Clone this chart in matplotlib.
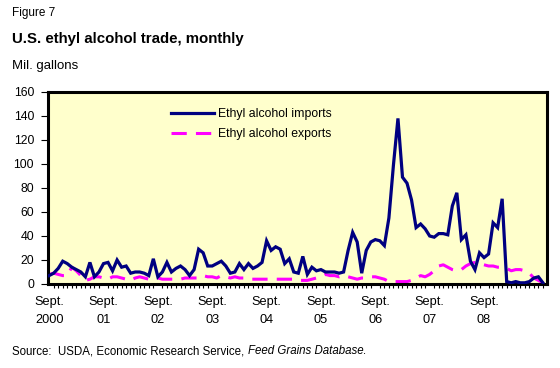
import numpy as np
import matplotlib
matplotlib.use("Agg")
import matplotlib.pyplot as plt

plt.rcParams['font.family'] = ['Liberation Sans', 'DejaVu Sans']

# monthly values, Sept. 2000 onward (mil. gallons)
imports = [7, 9, 13, 19, 17, 14, 12, 10, 6, 18, 6, 10, 17, 18, 11, 20, 14, 15, 9, 10,
           10, 9, 7, 21, 6, 10, 18, 10, 13, 15, 12, 7, 12, 29, 26, 15, 15, 17, 19, 15,
           9, 10, 17, 12, 17, 13, 15, 18, 36, 28, 31, 29, 17, 21, 10, 9, 23, 8, 14, 11,
           12, 10, 10, 10, 9, 10, 28, 43, 35, 9, 28, 35, 37, 36, 32, 55, 99, 138, 89, 84,
           70, 47, 50, 46, 40, 39, 42, 42, 41, 65, 76, 37, 41, 19, 12, 26, 22, 25, 51, 47,
           71, 2, 1, 2, 1, 1, 2, 5, 6, 1]
exports = [8, 9, 8, 7, 7, 14, 11, 7, 3, 4, 6, 6, 5, 4, 6, 6, 5, 4, 3, 5,
           6, 5, 4, 4, 5, 4, 4, 4, 4, 4, 5, 5, 5, 5, 7, 6, 6, 5, 7, 6,
           5, 6, 5, 5, 4, 4, 4, 4, 4, 4, 4, 4, 4, 4, 4, 3, 3, 3, 4, 5,
           6, 8, 7, 7, 6, 7, 6, 5, 4, 5, 5, 6, 6, 5, 4, 2, 2, 2, 2, 2,
           3, 5, 7, 6, 8, 11, 15, 16, 14, 12, 11, 12, 15, 17, 18, 17, 16, 15, 15, 14,
           14, 13, 11, 12, 12, 11, 9, 5, 3, 1]
year_labels = ['Sept.\n2000', 'Sept.\n01', 'Sept.\n02', 'Sept.\n03', 'Sept.\n04',
               'Sept.\n05', 'Sept.\n06', 'Sept.\n07', 'Sept.\n08']

W, H = 560, 368
fig = plt.figure(figsize=(W / 100, H / 100), dpi=100)
ax = fig.add_axes([48 / W, 1 - 284 / H, 499 / W, 192 / H])
ax.set_facecolor('#FFFFCC')

x = np.arange(len(imports))
ax.plot(x, imports, color='#000080', lw=2.3, label='Ethyl alcohol imports',
        solid_joinstyle='miter', zorder=3)
ax.plot(x, exports, color='#FF00FF', lw=2.2, linestyle=(0, (5, 3)),
        label='Ethyl alcohol exports', zorder=2)

ax.set_xlim(-0.25, 109.9)
ax.set_ylim(0, 160)
ax.set_yticks(range(0, 161, 20))
ax.set_xticks([12 * i for i in range(len(year_labels))])
ax.set_xticklabels(year_labels)
ax.set_xticks(np.arange(0, 110), minor=True)
ax.tick_params(axis='x', which='major', length=0, pad=9, labelsize=9.2)
ax.tick_params(axis='x', which='minor', length=3, width=0.8, direction='out')
ax.tick_params(axis='y', length=5, width=0.8, pad=5, labelsize=8.8)
for lbl in ax.get_xticklabels():
    lbl.set_linespacing(1.6)

for s in ax.spines.values():
    s.set_linewidth(2.2)
    s.set_color('black')

leg = ax.legend(loc='upper left', bbox_to_anchor=(0.225, 0.975), frameon=False,
                fontsize=8.8, handlelength=3.5, handletextpad=0.3, labelspacing=0.7)

fig.text(12 / W, 1 - 13 / H, 'Figure 7', fontsize=8.5, va='center')
fig.text(12 / W, 1 - 39 / H, 'U.S. ethyl alcohol trade, monthly', fontsize=10.8,
         fontweight='bold', va='center')
fig.text(12 / W, 1 - 66 / H, 'Mil. gallons', fontsize=9.5, va='center')

# source line with italic database name
r = fig.canvas.get_renderer()
t1 = fig.text(12 / W, 1 - 351 / H, 'Source:  USDA, Economic Research Service, ',
              fontsize=8.3, va='center')
bb = t1.get_window_extent(r)
t2 = fig.text(bb.x1 / W, 1 - 351 / H, 'Feed Grains Database', fontsize=8.3,
              style='italic', va='center')
bb2 = t2.get_window_extent(r)
fig.text(bb2.x1 / W, 1 - 351 / H, '.', fontsize=8.3, va='center')

fig.savefig('out.png', dpi=100, facecolor='white')
